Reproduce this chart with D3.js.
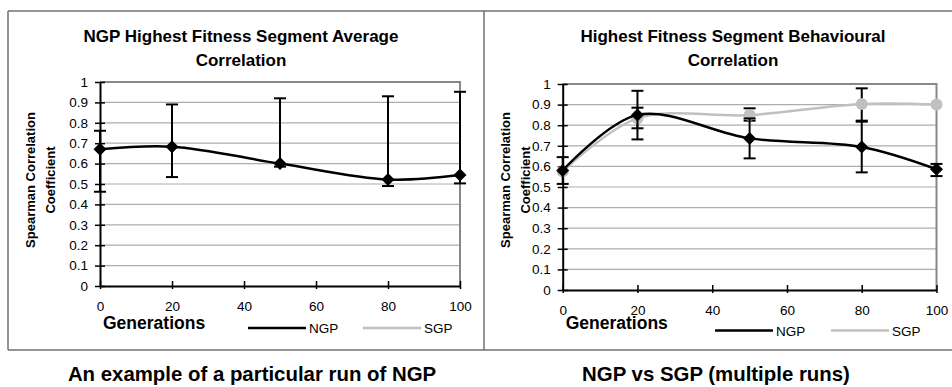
<!DOCTYPE html>
<html>
<head>
<meta charset="utf-8">
<script src="https://cdn.jsdelivr.net/npm/d3@7"></script>
<style>
  html, body { margin: 0; padding: 0; background: #fff; }
  svg { display: block; font-family: Arial, "Liberation Sans", sans-serif; }
</style>
</head>
<body>
<svg id="chart" width="952" height="387"></svg>
<script>
// ---------------- data ----------------
const generations = [0, 20, 50, 80, 100];
const xTicks = [0, 20, 40, 60, 80, 100];
const yTicks = [0, 0.1, 0.2, 0.3, 0.4, 0.5, 0.6, 0.7, 0.8, 0.9, 1];

// Left: a particular run of NGP
const runNGP     = [0.670, 0.683, 0.600, 0.522, 0.544];
const runNGPLow  = [0.462, 0.534, 0.585, 0.490, 0.503];
const runNGPHigh = [0.761, 0.890, 0.920, 0.930, 0.952];

// Right: NGP vs SGP (multiple runs)
const multiNGP     = [0.580, 0.850, 0.736, 0.694, 0.586];
const multiNGPLow  = [0.515, 0.731, 0.639, 0.571, 0.553];
const multiNGPHigh = [0.645, 0.967, 0.833, 0.817, 0.612];
const multiSGP     = [0.575, 0.833, 0.849, 0.903, 0.900];
const multiSGPLow  = [null, 0.785, 0.822, 0.822, null];
const multiSGPHigh = [null, 0.885, 0.882, 0.979, null];

const leftTitle = ["NGP Highest Fitness Segment Average", "Correlation"];
const rightTitle = ["Highest Fitness Segment Behavioural", "Correlation"];
const yLabel = ["Spearman Correlation", "Coefficient"];
const xLabel = "Generations";
const legendNames = ["NGP", "SGP"];
const captions = ["An example of a particular run of NGP", "NGP vs SGP (multiple runs)"];

// ---------------- drawing ----------------
const svg = d3.select("#chart");
const BLACK = "#000";
const GRAY = "#c0c0c0";

// outer frame
const frame = svg.append("g").attr("stroke", "#707070").attr("stroke-width", 1.5).attr("fill", "none");
frame.append("line").attr("x1", 8).attr("x2", 952).attr("y1", 11).attr("y2", 11);
frame.append("line").attr("x1", 8).attr("x2", 952).attr("y1", 350).attr("y2", 350);
frame.append("line").attr("x1", 8).attr("x2", 8).attr("y1", 11).attr("y2", 350);
frame.append("line").attr("x1", 484).attr("x2", 484).attr("y1", 11).attr("y2", 350);

function drawChart(cfg) {
  const g = svg.append("g");
  const x = d3.scaleLinear().domain([0, 100]).range([cfg.x0, cfg.x1]);
  const y = d3.scaleLinear().domain([0, 1]).range([cfg.y0, cfg.y1]);

  // gridlines
  g.append("g").selectAll("line").data(yTicks.filter(d => d > 0 && d < 1)).join("line")
    .attr("x1", cfg.x0).attr("x2", cfg.x1)
    .attr("y1", d => y(d)).attr("y2", d => y(d))
    .attr("stroke", "#adadad").attr("stroke-width", 1.2);

  // plot border (top and right)
  g.append("path")
    .attr("d", `M${cfg.x0},${y(1)}H${cfg.x1}V${y(0)}`)
    .attr("fill", "none").attr("stroke", "#888").attr("stroke-width", 2);

  // y axis
  const yAxis = g.append("g").attr("transform", `translate(${cfg.x0},0)`)
    .call(d3.axisLeft(y).tickValues(yTicks).tickFormat(d3.format("~g")).tickSizeInner(5).tickSizeOuter(0).tickPadding(7));
  yAxis.select(".domain").attr("stroke", BLACK).attr("stroke-width", 2);
  yAxis.selectAll(".tick line").attr("x1", -5).attr("x2", 5).attr("stroke", BLACK).attr("stroke-width", 1.5);
  yAxis.selectAll(".tick text").attr("font-size", 13.5).attr("fill", "#000").attr("font-family", "Arial, 'Liberation Sans', sans-serif");

  // x axis
  const xAxis = g.append("g").attr("transform", `translate(0,${cfg.y0})`)
    .call(d3.axisBottom(x).tickValues(xTicks).tickFormat(d3.format("d")).tickSizeInner(4).tickSizeOuter(0).tickPadding(cfg.xPad));
  xAxis.select(".domain").attr("stroke", BLACK).attr("stroke-width", 2);
  xAxis.selectAll(".tick line").attr("y1", -5).attr("y2", 3).attr("stroke", BLACK).attr("stroke-width", 1.5);
  xAxis.selectAll(".tick text").attr("font-size", 13.5).attr("fill", "#000").attr("font-family", "Arial, 'Liberation Sans', sans-serif");

  // titles
  g.append("g").selectAll("text").data(cfg.title).join("text")
    .attr("x", cfg.titleX).attr("y", (d, i) => 42 + i * 23.5)
    .attr("text-anchor", "middle").attr("font-weight", "bold").attr("font-size", 17)
    .text(d => d);

  // y label
  g.append("g").selectAll("text").data(yLabel).join("text")
    .attr("transform", (d, i) => `translate(${cfg.yLabX + i * 20},${180}) rotate(-90)`)
    .attr("text-anchor", "middle").attr("font-weight", "bold").attr("font-size", 13)
    .text(d => d);

  // x label
  g.append("text").attr("x", cfg.x0 + 3).attr("y", 329)
    .attr("font-weight", "bold").attr("font-size", 17.5).text(xLabel);

  // legend
  const lg = g.append("g");
  legendNames.forEach((name, i) => {
    const lx = cfg.legX[i];
    lg.append("line").attr("x1", lx).attr("x2", lx + 58).attr("y1", cfg.legY).attr("y2", cfg.legY)
      .attr("stroke", i === 0 ? BLACK : GRAY).attr("stroke-width", 2.5);
    lg.append("text").attr("x", lx + 61).attr("y", cfg.legY + 5).attr("font-size", 13.5).text(name);
  });

  const line = d3.line().x(d => x(d.g)).y(d => y(d.v)).curve(d3.curveCatmullRom.alpha(0.5));

  cfg.series.forEach(s => {
    const pts = generations.map((gen, i) => ({ g: gen, v: s.values[i], lo: s.low[i], hi: s.high[i] }));
    const sg = g.append("g");
    sg.append("path").datum(pts).attr("d", line)
      .attr("fill", "none").attr("stroke", s.color).attr("stroke-width", 2.5);
    s.group = sg;
    s.pts = pts;
  });

  // error bars (drawn black)
  cfg.series.forEach(s => {
    const eb = s.group.append("g").attr("stroke", BLACK).attr("stroke-width", 2);
    s.pts.filter(p => p.lo != null && p.hi != null).forEach(p => {
      eb.append("line").attr("x1", x(p.g)).attr("x2", x(p.g)).attr("y1", y(p.lo)).attr("y2", y(p.hi));
      eb.append("line").attr("x1", x(p.g) - 6).attr("x2", x(p.g) + 6).attr("y1", y(p.lo)).attr("y2", y(p.lo));
      eb.append("line").attr("x1", x(p.g) - 6).attr("x2", x(p.g) + 6).attr("y1", y(p.hi)).attr("y2", y(p.hi));
    });
  });

  // markers
  cfg.series.forEach(s => {
    const mg = s.group.append("g");
    if (s.marker === "diamond") {
      mg.selectAll("path").data(s.pts).join("path")
        .attr("transform", p => `translate(${x(p.g)},${y(p.v)})`)
        .attr("d", "M0,-6.5L6.5,0L0,6.5L-6.5,0Z").attr("fill", BLACK);
    } else {
      mg.selectAll("circle").data(s.pts).join("circle")
        .attr("cx", p => x(p.g)).attr("cy", p => y(p.v)).attr("r", 6).attr("fill", GRAY);
    }
  });

  // caption
  svg.append("text").attr("x", cfg.capX).attr("y", 381)
    .attr("text-anchor", "middle").attr("font-weight", "bold").attr("font-size", 20.4)
    .text(cfg.caption);
}

drawChart({
  x0: 100, x1: 460, y0: 286, y1: 82, xPad: 11.5,
  title: leftTitle, titleX: 241, yLabX: 35,
  legX: [248, 363], legY: 328,
  caption: captions[0], capX: 252,
  series: [
    { values: runNGP, low: runNGPLow, high: runNGPHigh, color: BLACK, marker: "diamond" }
  ]
});

drawChart({
  x0: 562.7, x1: 936.5, y0: 290, y1: 84, xPad: 11,
  title: rightTitle, titleX: 733, yLabX: 510,
  legX: [715, 831], legY: 330.5,
  caption: captions[1], capX: 716,
  series: [
    { values: multiSGP, low: multiSGPLow, high: multiSGPHigh, color: GRAY, marker: "circle" },
    { values: multiNGP, low: multiNGPLow, high: multiNGPHigh, color: BLACK, marker: "diamond" }
  ]
});
</script>
</body>
</html>
